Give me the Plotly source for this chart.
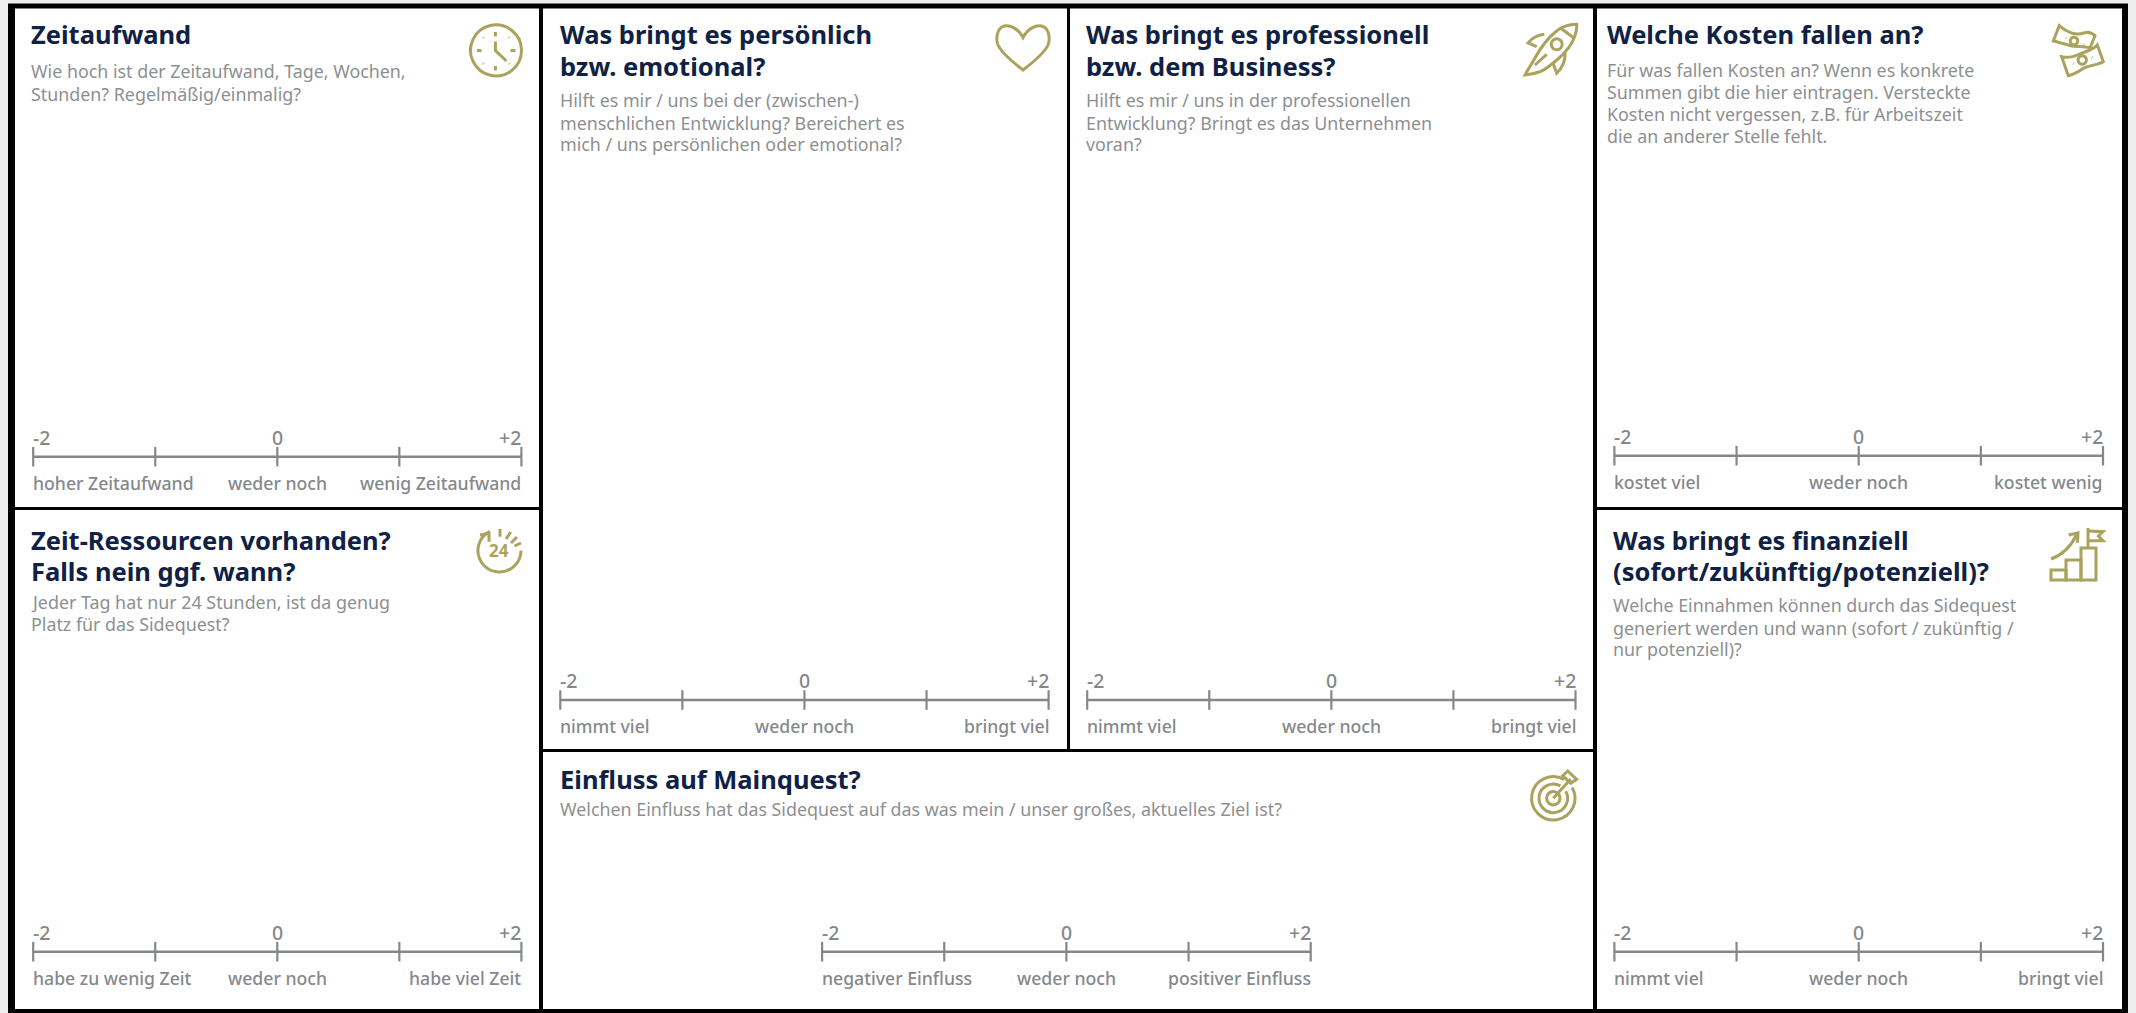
import math
import plotly.graph_objects as go

W, H = 2136, 1013

# ---------- content ----------
TITLES = [
    ["Zeitaufwand"],
    ["Zeit-Ressourcen vorhanden?", "Falls nein ggf. wann?"],
    ["Was bringt es persönlich", "bzw. emotional?"],
    ["Was bringt es professionell", "bzw. dem Business?"],
    ["Einfluss auf Mainquest?"],
    ["Welche Kosten fallen an?"],
    ["Was bringt es finanziell", "(sofort/zukünftig/potenziell)?"],
]
DESCRIPTIONS = [
    ["Wie hoch ist der Zeitaufwand, Tage, Wochen,", "Stunden? Regelmäßig/einmalig?"],
    ["Jeder Tag hat nur 24 Stunden, ist da genug", "Platz für das Sidequest?"],
    ["Hilft es mir / uns bei der (zwischen-)", "menschlichen Entwicklung? Bereichert es", "mich / uns persönlichen oder emotional?"],
    ["Hilft es mir / uns in der professionellen", "Entwicklung? Bringt es das Unternehmen", "voran?"],
    ["Welchen Einfluss hat das Sidequest auf das was mein / unser großes, aktuelles Ziel ist?"],
    ["Für was fallen Kosten an? Wenn es konkrete", "Summen gibt die hier eintragen. Versteckte", "Kosten nicht vergessen, z.B. für Arbeitszeit", "die an anderer Stelle fehlt."],
    ["Welche Einnahmen können durch das Sidequest", "generiert werden und wann (sofort / zukünftig /", "nur potenziell)?"],
]
SCALE_LOW = ["hoher Zeitaufwand", "habe zu wenig Zeit", "nimmt viel", "nimmt viel", "negativer Einfluss", "kostet viel", "nimmt viel"]
SCALE_MID = ["weder noch"] * 7
SCALE_HIGH = ["wenig Zeitaufwand", "habe viel Zeit", "bringt viel", "bringt viel", "positiver Einfluss", "kostet wenig", "bringt viel"]
SCALE_VALUES = [-2, -1, 0, 1, 2]
SCALE_ZERO = [0, 0, 0, 0, 0]
TICK_VALUES = [-2, 0, 2]
TICK_LABELS = ["-2", "0", "+2"]

# ---------- layout (pixels) ----------
PANELS = [(15, 8.5, 539, 507), (15, 510, 539, 1009), (543, 8.5, 1067, 749), (1070, 8.5, 1593, 749),
          (543, 752, 1593, 1009), (1597, 8.5, 2122, 507), (1597, 510, 2122, 1009)]
TEXT_X = [31.4, 31.4, 560.4, 1086, 560, 1606.6, 1613]
TITLE_Y = [[44], [549.3, 581], [44, 76], [44, 76], [788.3], [44], [549.3, 581]]
DESC_Y = [[77.3, 101], [608.3, 630.7], [106.7, 129.3, 150.7], [106.7, 129.3, 150.7], [815.7],
          [76.7, 98.3, 120.7, 142.7], [611.7, 634.3, 655.7]]
AXIS_X = [(33.2, 521.4), (33.2, 521.4), (560.3, 1048.6), (1087.2, 1575.5), (822.1, 1310.7), (1614.4, 2103), (1614.4, 2103)]
AXIS_Y = [456.7, 951.7, 700, 700, 951.7, 455.7, 951.7]

FONT = "Noto Sans"
NAVY, GREY, GOLD = "#0f2144", "#85888b", "#aaa25d"
TITLE_SIZE, DESC_SIZE, LABEL_SIZE, NUMBER_SIZE = 25.5, 17.85, 17.65, 19.5
DESC_FACTOR = 0.293  # font descent, used to place text by baseline


def text(x, y, s, size, color, anchor="left", weight="normal", xref="x"):
    return dict(x=x, y=y + DESC_FACTOR * size, xref=xref, yref="y", text=s, showarrow=False,
                xanchor=anchor, yanchor="bottom", align=anchor, borderpad=0, borderwidth=0,
                font=dict(family=FONT, size=size, color=color, weight=weight))


def arc(cx, cy, r, a0, a1):
    n = max(1, int(abs(a1 - a0) / 60) + 1)
    d = math.radians(a1 - a0) / n
    k = 4 / 3 * math.tan(d / 4) * r
    a = math.radians(a0)
    out = f"M{cx + r * math.cos(a):.2f},{cy + r * math.sin(a):.2f}"
    for _ in range(n):
        b = a + d
        out += (f"C{cx + r * math.cos(a) - k * math.sin(a):.2f},{cy + r * math.sin(a) + k * math.cos(a):.2f} "
                f"{cx + r * math.cos(b) + k * math.sin(b):.2f},{cy + r * math.sin(b) - k * math.cos(b):.2f} "
                f"{cx + r * math.cos(b):.2f},{cy + r * math.sin(b):.2f}")
        a = b
    return out


def circle(cx, cy, r):
    return arc(cx, cy, r, 0, 360) + "Z"


def line(*pts):
    return "M" + "L".join(f"{x},{y}" for x, y in pts)


ICONS = [
    # clock
    circle(496, 50.4, 25.5),
    line((495.4, 32), (495.4, 36.5)), line((510.5, 50.6), (515.5, 50.6)), line((477, 50.6), (481.5, 50.6)), line((495.4, 66), (495.4, 70.5)),
    line((483, 37.3), (483.5, 37.8)), line((509, 37.3), (509.5, 37.8)), line((483, 63.3), (483.5, 63.8)), line((509, 63.3), (509.5, 63.8)),
    line((495.4, 41.6), (495.4, 50.5), (506.4, 61)),
    # 24h
    arc(499.5, 550.5, 21.5, 243, 0),
    line((480, 535), (489, 533.3), (489, 541.7)),
    line((500, 529), (500, 536.7)), line((510.7, 532), (506, 539)), line((517, 537), (511, 543)), line((521, 543), (514.5, 546)),
    # heart
    "M1023,37.5C1018,28 1010,25 1004.5,26C996,28 996,40 998,45C1002,54 1014,63 1023,70C1032,63 1044,54 1048,45C1050,40 1050,28 1041.5,26C1036,25 1028,28 1023,37.5Z",
    # rocket
    "M1576.7,24.3C1568,24.5 1562,26.5 1556,31.5C1548,38 1541,47 1535,58C1531,65 1527,71 1525,75C1531,74.5 1536,73 1540,71.7C1546,69.5 1552,64 1558,59C1566,52 1572,44 1574.5,37C1576.5,32 1577,28 1576.7,24.3Z",
    line((1560, 27.7), (1574, 38)),
    "M1544.3,34.3C1538,35 1532,38 1528,43L1536.7,46.7",
    "M1565,53C1565.5,60 1562,68 1556.7,73.3L1553,63",
    circle(1556.7, 44.3, 5.5),
    line((1535, 65), (1546.7, 54.3)),
    # money
    "M2059.3,25.7C2066,32 2076,36 2084,33C2089,31 2092,33 2095,35.7L2090,48C2084,46 2078,47 2072,46C2064,44 2058,42 2053.3,41Z",
    circle(2074, 41, 3.8), line((2065.7, 37.7), (2066.2, 38)), line((2083.3, 44.3), (2083.8, 44.6)),
    "M2061.7,56.7C2070,59 2078,55 2085,52C2090,50 2095,48 2097.3,45L2103.3,61.7C2098,65 2090,65 2084,68C2078,72 2072,75 2068.3,75.7Z",
    circle(2082.3, 60, 4.2), line((2073.3, 63.3), (2073.8, 63.6)), line((2091.7, 57.3), (2092.2, 57.6)),
    # target
    arc(1553.3, 798.3, 21.7, -30, 300), arc(1553.3, 798.3, 14.3, -30, 300), circle(1553.3, 798.3, 6.7),
    line((1553.3, 798.3), (1570.7, 779)),
    "M1567.7,771L1576.7,779.3L1570.7,783.3L1562.7,775.7Z",
    # stairs
    "M2051,570H2066V580H2051Z", "M2066,560H2081V580H2066Z", "M2081,548H2096V580H2081Z",
    "M2088,548V528", "M2088,531L2103,531.7L2098.4,536L2103,540.7H2088",
    "M2051,559Q2067.6,553 2076.5,535", "M2068.7,535L2078,533L2077.5,542.7",
]

fig = go.Figure()
layout_axes = {
    "xaxis": dict(domain=[0, 1], range=[0, W], visible=False, fixedrange=True),
    "yaxis": dict(domain=[0, 1], range=[H, 0], visible=False, fixedrange=True),
}
# invisible trace keeps the pixel axes alive
fig.add_trace(go.Scatter(x=[0, W], y=[0, H], mode="markers", marker=dict(opacity=0), xaxis="x", yaxis="y", showlegend=False))

annotations = []
for i, (x0, x1) in enumerate(AXIS_X):
    n = i + 2
    y = AXIS_Y[i]
    layout_axes[f"xaxis{n}"] = dict(domain=[x0 / W, x1 / W], range=[-2, 2], visible=False, anchor=f"y{n}", fixedrange=True)
    layout_axes[f"yaxis{n}"] = dict(domain=[1 - (y + 10) / H, 1 - (y - 10) / H], range=[-1, 1], visible=False, anchor=f"x{n}", fixedrange=True)
    fig.add_trace(go.Scatter(
        x=SCALE_VALUES, y=SCALE_ZERO, mode="lines+markers", xaxis=f"x{n}", yaxis=f"y{n}", showlegend=False, cliponaxis=False,
        line=dict(color=GREY, width=2.4),
        marker=dict(symbol="line-ns", size=14, color=GREY, line=dict(color=GREY, width=2.2)),
    ))
    xref = f"x{n}"
    for v, t, a in zip(TICK_VALUES, TICK_LABELS, ["left", "center", "right"]):
        annotations.append(text(v, y - 11.5, t, NUMBER_SIZE, GREY, a, weight=500, xref=xref))
    for v, t, a in zip(TICK_VALUES, [SCALE_LOW[i], SCALE_MID[i], SCALE_HIGH[i]], ["left", "center", "right"]):
        annotations.append(text(v, y + 33, t, LABEL_SIZE, GREY, a, weight=500, xref=xref))

for i in range(len(TITLES)):
    for s, y in zip(TITLES[i], TITLE_Y[i]):
        annotations.append(text(TEXT_X[i], y, s, TITLE_SIZE, NAVY, weight="bold"))
    for s, y in zip(DESCRIPTIONS[i], DESC_Y[i]):
        annotations.append(text(TEXT_X[i], y, s, DESC_SIZE, "#8d8f91"))
annotations.append(text(499, 557.5, "24", 17, GOLD, "center", weight="bold"))

shapes = [dict(type="rect", xref="x", yref="y", x0=8, y0=3.5, x1=2128, y1=H, fillcolor="#000000", line_width=0, layer="below")]
for (x0, y0, x1, y1) in PANELS:
    shapes.append(dict(type="rect", xref="x", yref="y", x0=x0, y0=y0, x1=x1, y1=y1, fillcolor="#ffffff", line_width=0, layer="below"))
for p in ICONS:
    shapes.append(dict(type="path", xref="x", yref="y", path=p, line=dict(color=GOLD, width=3), fillcolor="rgba(0,0,0,0)", layer="above"))

fig.update_layout(
    width=W, height=H, margin=dict(l=0, r=0, t=0, b=0, pad=0), paper_bgcolor="#eeeeee", plot_bgcolor="rgba(0,0,0,0)",
    showlegend=False, hovermode=False, shapes=shapes, annotations=annotations, **layout_axes,
)
fig.write_html("out.html", config=dict(displayModeBar=False),
               post_script="document.body.style.margin='0';document.body.style.overflow='hidden';document.documentElement.style.background='#eeeeee';")
